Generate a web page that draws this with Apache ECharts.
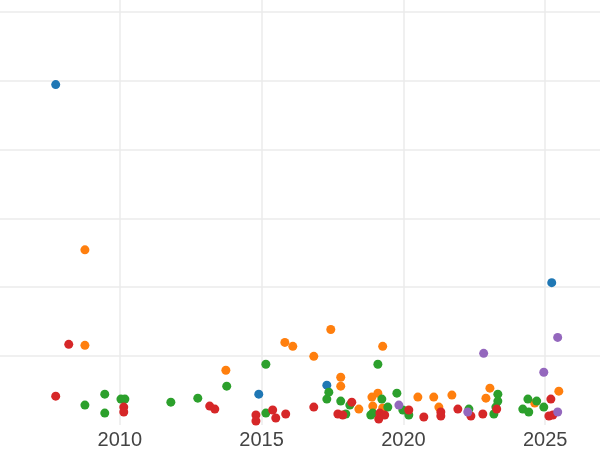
<!DOCTYPE html>
<html>
<head>
<meta charset="utf-8">
<script src="https://cdn.jsdelivr.net/npm/echarts@6/dist/echarts.min.js"></script>
<style>
html,body{margin:0;padding:0;background:#fff;overflow:hidden;width:600px;height:450px;position:relative}
#c{position:absolute;left:-21.77px;top:0;width:708.87px;height:450px}
</style>
</head>
<body>
<div id="c"></div>
<script>
// [year, value]
const blueData = [[2007.74,494.2],[2025.23,206.6],[2017.30,57.8],[2014.90,44.8]];
const orangeData = [[2008.77,254.3],[2008.77,115.6],[2013.74,79.5],[2015.82,119.9],[2016.10,114.2],[2016.84,99.7],[2017.44,138.7],[2017.79,69.4],[2017.79,56.4],[2019.27,114.2],[2018.43,23.1],[2018.89,40.5],[2019.10,46.2],[2018.92,27.5],[2019.27,24.6],[2020.51,40.5],[2021.07,40.5],[2021.71,43.4],[2021.25,26.0],[2023.05,53.5],[2022.91,39.0],[2024.63,31.8],[2025.48,49.1]];
const greenData = [[2008.77,28.9],[2009.47,44.8],[2009.47,17.3],[2010.04,37.6],[2010.18,37.6],[2011.80,33.2],[2012.75,39.0],[2013.77,56.4],[2015.15,88.2],[2015.15,17.3],[2017.37,47.7],[2017.30,37.6],[2017.79,34.7],[2018.11,28.9],[2017.97,15.9],[2019.10,88.2],[2019.24,37.6],[2018.85,14.5],[2018.92,17.3],[2019.45,26.0],[2019.77,46.2],[2019.98,21.7],[2020.19,14.5],[2022.31,23.1],[2023.33,44.8],[2023.33,34.7],[2023.26,26.0],[2023.19,15.9],[2024.39,37.6],[2024.70,34.7],[2024.21,23.1],[2024.42,18.8],[2024.95,26.0]];
const redData = [[2008.20,117.1],[2007.74,41.9],[2010.14,26.0],[2010.14,18.8],[2013.17,27.5],[2013.35,23.1],[2014.80,14.5],[2014.80,5.8],[2015.39,21.7],[2015.50,10.1],[2015.85,15.9],[2016.84,26.0],[2017.69,15.9],[2017.86,14.5],[2018.18,33.2],[2019.17,17.3],[2019.34,14.5],[2019.13,8.7],[2020.19,21.7],[2020.72,11.6],[2021.32,18.8],[2021.32,13.0],[2021.92,23.1],[2022.38,13.0],[2022.80,15.9],[2023.29,23.1],[2025.20,37.6],[2025.13,13.0],[2025.27,14.5]];
const purpleData = [[2022.83,104.0],[2025.44,127.2],[2024.95,76.6],[2025.44,18.8],[2022.27,18.8],[2019.84,28.9]];

const seriesList = [
  {name:'blue', color:'#1f77b4', data: blueData},
  {name:'orange', color:'#ff7f0e', data: orangeData},
  {name:'green', color:'#2ca02c', data: greenData},
  {name:'red', color:'#d62728', data: redData},
  {name:'purple', color:'#9467bd', data: purpleData}
];

const chart = echarts.init(document.getElementById('c'), null, {renderer:'canvas'});
chart.setOption({
  backgroundColor: '#ffffff',
  animation: false,
  grid: {left: 0, right: 0, top: 0, bottom: 23, containLabel: false},
  xAxis: {
    type: 'value', min: 2005, max: 2030, interval: 5,
    axisLine: {show: false}, axisTick: {show: false},
    axisLabel: {color: '#444444', fontSize: 20, fontFamily: 'Liberation Sans', margin: 5,
      showMinLabel: false, showMaxLabel: false, formatter: v => String(v)},
    splitLine: {show: true, showMinLine: false, showMaxLine: false, lineStyle: {color: '#ebebeb', width: 1.5}}
  },
  yAxis: {
    type: 'value', min: 0, max: 617, interval: 100,
    axisLine: {show: false}, axisTick: {show: false}, axisLabel: {show: false},
    splitLine: {show: true, showMinLine: false, showMaxLine: false, lineStyle: {color: '#ebebeb', width: 1.5}}
  },
  series: seriesList.map(s => ({
    type: 'scatter', name: s.name, data: s.data, symbolSize: 9,
    itemStyle: {color: s.color, opacity: 1}
  }))
});
</script>
</body>
</html>
